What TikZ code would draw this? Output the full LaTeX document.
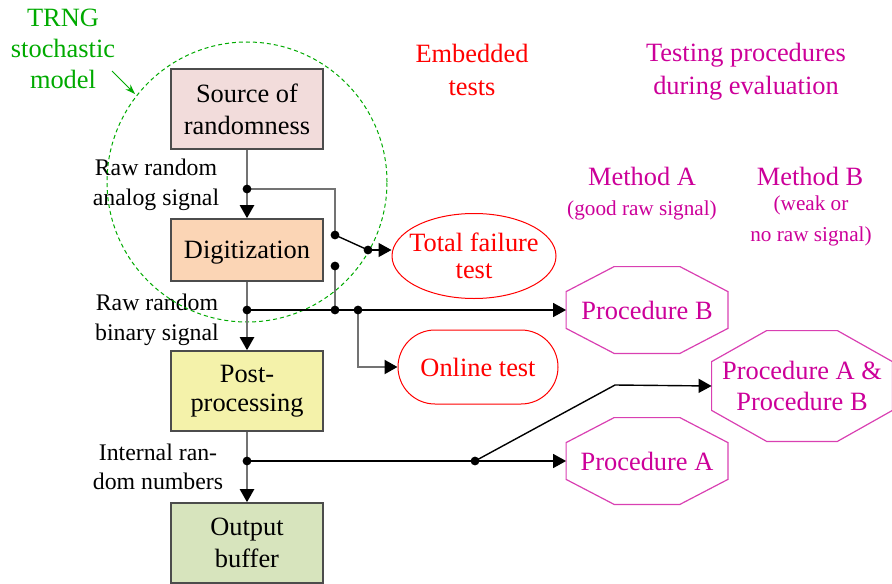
\documentclass[tikz,border=0pt]{standalone}
\usepackage{fontspec}
\setmainfont{Liberation Serif}
\usetikzlibrary{arrows.meta,shapes.geometric}

\definecolor{srcfill}{RGB}{242,220,219}
\definecolor{digfill}{RGB}{251,213,181}
\definecolor{postfill}{RGB}{244,242,170}
\definecolor{outfill}{RGB}{215,228,189}
\definecolor{procmag}{RGB}{204,0,153}
\definecolor{modelgreen}{RGB}{0,170,0}

\tikzset{
  block/.style={draw=black!70, line width=0.8pt, minimum width=76pt, inner sep=2pt,
    align=center, font=\fontsize{13.2}{16}\selectfont},
  sig/.style={draw=black!55, line width=1.1pt},
  wire/.style={draw=black, line width=0.7pt},
  arrowed/.style={-{Triangle[color=black,length=6.5pt,width=7pt]}},
  lbl/.style={align=center, font=\fontsize{11.9}{15}\selectfont},
  etest/.style={draw=red, text=red, line width=0.5pt, align=center, inner sep=0pt},
  proc/.style={text=procmag, align=center, inner sep=0pt,
    font=\fontsize{13.2}{15.5}\selectfont},
  octline/.style={draw=procmag!75, line width=0.6pt},
  head/.style={align=center, font=\fontsize{13.2}{16.5}\selectfont}
}

% octagon round a node: name, chamfer in x, chamfer in y
\newcommand{\octagon}[3]{%
  \draw[octline] ([xshift=#2]#1.north west) -- ([xshift=-#2]#1.north east)
    -- ([yshift=-#3]#1.north east) -- ([yshift=#3]#1.south east)
    -- ([xshift=-#2]#1.south east) -- ([xshift=#2]#1.south west)
    -- ([yshift=#3]#1.south west) -- ([yshift=-#3]#1.north west) -- cycle;}

\begin{document}
\begin{tikzpicture}[x=0.5pt, y=-0.5pt]
  \useasboundingbox (0,0) rectangle (892,583);

  % TRNG chain
  \node[block, fill=srcfill, minimum height=40pt] (src) at (247,109) {Source of\\randomness};
  \node[block, fill=digfill, minimum height=31pt, text height=9pt, text depth=1pt] (dig) at (247,250) {Digitization};
  \node[block, fill=postfill, minimum height=40pt] (post) at (247,391) {\raisebox{-1.5pt}{Post-}\\processing};
  \node[block, fill=outfill, minimum height=40pt] (outb) at (247,543) {Output\\buffer};

  \node[lbl] (analog) at (156,185) {Raw random\\analog signal};
  \node[lbl] (binary) at (157,320) {Raw random\\binary signal};
  \node[lbl, font=\fontsize{11.9}{14.5}\selectfont] (internal) at (158,467) {Internal ran-\\dom numbers};

  % junctions and switch contacts
  \coordinate (j1) at (247,189);
  \coordinate (j2) at (247,310);
  \coordinate (j3) at (247,461);
  \coordinate (sw1) at (335,235);
  \coordinate (sw2) at (335,266);
  \coordinate (swc) at (368,250);
  \coordinate (j4) at (335,310);
  \coordinate (j5) at (358,310);
  \coordinate (j6) at (475,461);
  \coordinate (bend) at (615,385);

  % embedded tests
  \node[etest, ellipse, inner xsep=-3.7pt, inner ysep=1.5pt, minimum width=82pt, minimum height=42.5pt,
    font=\fontsize{13.2}{13.5}\selectfont] (fail) at (474,256) {Total failure\\test};
  \node[etest, rounded corners=18.5pt, minimum width=80pt, minimum height=37pt,
    font=\fontsize{13.2}{16}\selectfont] (online) at (478,367) {Online test};

  % evaluation procedures
  \node[proc, minimum width=80.5pt, minimum height=43pt] (procB) at (647,310) {Procedure B};
  \node[proc, minimum width=80.5pt, minimum height=43pt] (procA) at (647,461) {Procedure A};
  \node[proc, minimum width=90pt, minimum height=55pt] (procAB) at (802,386) {Procedure A \&\\Procedure B};
  \octagon{procB}{24pt}{12.5pt}
  \octagon{procA}{24pt}{12.5pt}
  \octagon{procAB}{27.5pt}{15.5pt}

  % headings
  \node[head, text=red] (emb) at (472,70) {Embedded\\tests};
  \node[head, text=procmag] (eval) at (746,72) {Testing procedures\\during evaluation};
  \node[head, text=procmag] (methA) at (642,176) {Method A};
  \node[text=procmag, font=\fontsize{10.6}{15.5}\selectfont] (methAsub) at (642,210) {(good raw signal)};
  \node[head, text=procmag] (methB) at (810,176) {Method B};
  \node[text=procmag, align=center, font=\fontsize{10.6}{15.5}\selectfont] (methBsub) at (811,221) {(weak or\\no raw signal)};

  % stochastic model
  \node[align=center, text=modelgreen, font=\fontsize{13.2}{15.5}\selectfont] (model) at (63,49) {TRNG\\stochastic\\model};
  \draw[modelgreen, dash pattern=on 2pt off 1.5pt, line width=0.5pt] (247,182) circle[radius=70pt];
  \coordinate (m1) at (112,71);
  \coordinate (m2) at (135,94);
  \draw[modelgreen, line width=0.5pt, -{Stealth[length=5pt,width=3.5pt]}] (m1) -- (m2);

  % signal path
  \draw[sig, arrowed] (src) -- (dig);
  \draw[sig, arrowed] (dig) -- (post);
  \draw[sig, arrowed] (post) -- (outb);
  \draw[sig] (j1) -| (sw1);
  \draw[sig] (sw2) -- (j4);
  \draw[sig, arrowed] (j5) |- (online.west);
  \draw[wire] (sw1) -- (swc);
  \draw[wire, arrowed] (swc) -- (fail.west |- swc);
  \draw[wire, arrowed] (j2) -- (procB.west);
  \draw[wire, arrowed] (j3) -- (procA.west);
  \draw[wire, arrowed] (j6) -- (bend) -- (procAB.west);

  \foreach \p in {j1,j2,j3,sw1,sw2,swc,j4,j5,j6}
    \fill (\p) circle[radius=2.2pt];
\end{tikzpicture}
\end{document}
